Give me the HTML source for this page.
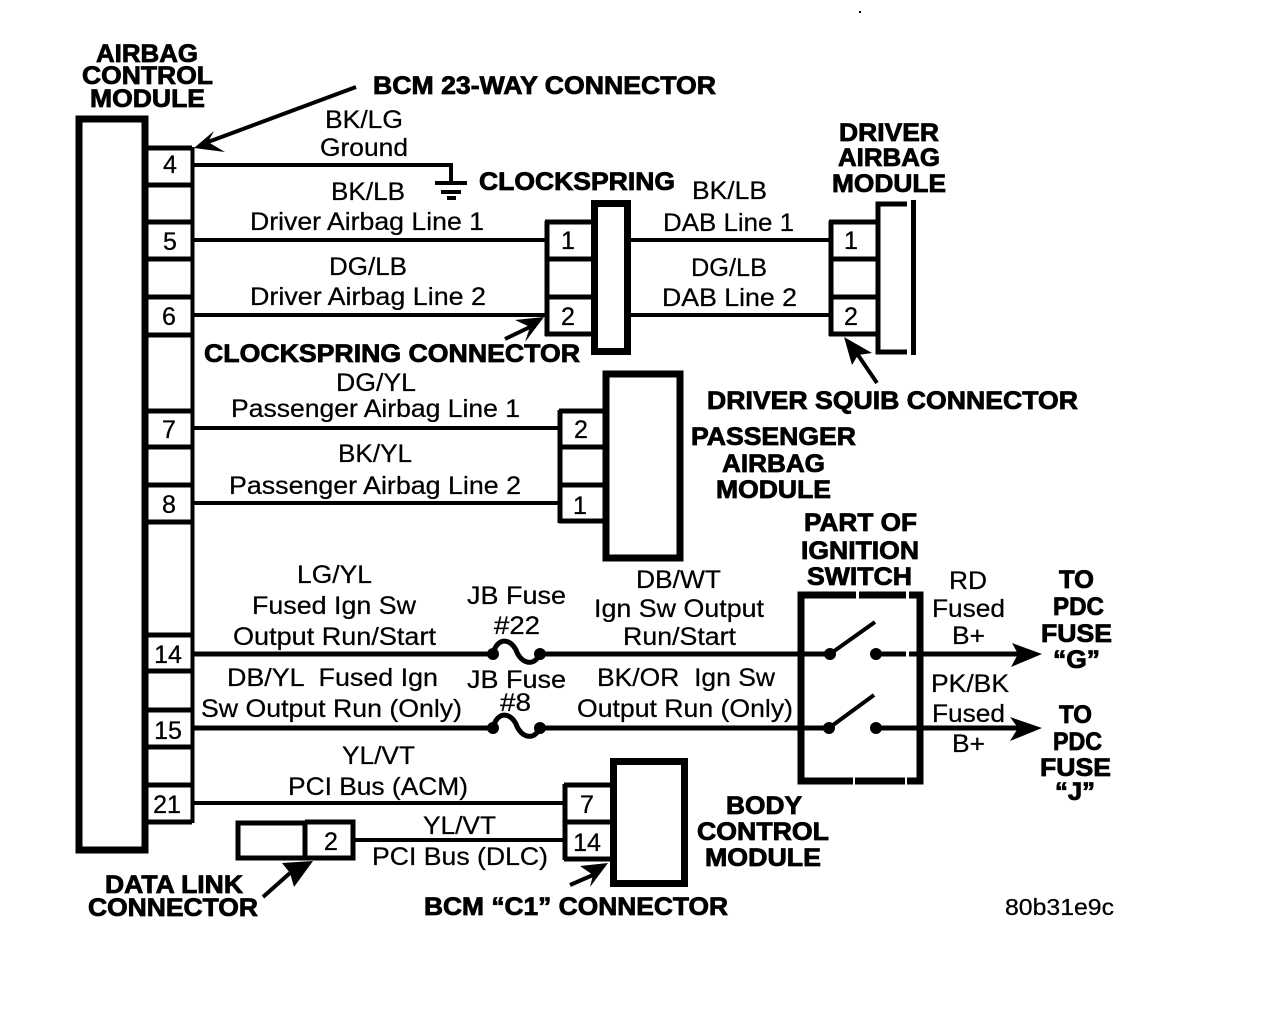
<!DOCTYPE html>
<html lang="en">
<head>
<meta charset="utf-8">
<title>Airbag Control Module Wiring Diagram</title>
<style>
html,body{margin:0;padding:0;background:#fff;width:1280px;height:1026px;overflow:hidden}
svg{display:block}
text{font-family:"Liberation Sans",sans-serif;fill:#000}
.r{font-size:25px;stroke:#000;stroke-width:.25px}
.b{font-size:25px;font-weight:bold;stroke:#000;stroke-width:.8px}
.n{font-size:25px;text-anchor:middle;stroke:#000;stroke-width:.3px}
.l{fill:none;stroke:#000;stroke-width:4}
.t{fill:none;stroke:#000;stroke-width:5}
.k{fill:none;stroke:#000;stroke-width:7}
</style>
</head>
<body>
<svg xmlns="http://www.w3.org/2000/svg" width="1280" height="1026" viewBox="0 0 1280 1026">
<rect width="1280" height="1026" fill="#fff"/>
<rect x="859" y="11" width="2" height="2"/>

<!-- Airbag control module -->
<rect x="79" y="119" width="66" height="731" class="k"/>
<path class="l" d="M192.500 147V823"/>
<path class="t" d="M146 148H192M146 185H192M146 222H192M146 259H192M146 297H192M146 335H192M146 411H192M146 447H192M146 485H192M146 522H192M146 635H192M146 671H192M146 710H192M146 747H192M146 785H192M146 822H192"/>

<!-- Wires -->
<path class="l" d="M192 165H451V184"/>
<path class="l" d="M435 183H467M441 192H461"/>
<path d="M447 196H456V200H447Z"/>
<path class="l" d="M192 240H546M192 315H546M630 240H829M630 315H829M192 428H559M192 503H559"/>
<path class="l" d="M192 803H565M355 840H565"/>
<path class="t" d="M192 654H493M540 654H830M876 654H1020M192 728H493M540 728H830M876 728H1020"/>

<!-- Fuses -->
<path fill="none" stroke="#000" stroke-width="5" d="M493 654C497 637 510 638 516 650C521 664 534 667 540 654"/>
<path fill="none" stroke="#000" stroke-width="5" d="M493 728C497 711 510 712 516 724C521 738 534 741 540 728"/>
<circle cx="493" cy="654" r="6"/><circle cx="540" cy="654" r="6"/>
<circle cx="493" cy="728" r="6"/><circle cx="540" cy="728" r="6"/>

<!-- Clockspring -->
<rect x="594.500" y="203.500" width="33" height="148" class="k"/>
<path class="t" d="M547 221V336M545 222H592M545 259H592M545 297H592M545 334H592"/>

<!-- Driver airbag module -->
<path class="t" d="M831 221V336M829 222H876M829 259H876M829 297H876M829 334H876"/>
<path class="t" d="M907 204H878V352H907"/>
<path d="M911 200H916V355H911Z"/>

<!-- Passenger airbag module -->
<rect x="606" y="374" width="74" height="184" class="k"/>
<path class="t" d="M560 410V523M559 411H606M559 447H606M559 485H606M559 521H606"/>

<!-- Ignition switch -->
<rect x="801" y="595" width="119" height="186" class="k"/>
<path d="M856 589h3v10h-3zM906 589h3v10h-3zM853 777h2v8h-2zM905 777h2v8h-2z" fill="#fff"/>
<path d="M906 650h3v8h-3z" fill="#fff"/>
<circle cx="830" cy="654" r="6"/><circle cx="876" cy="654" r="6"/>
<circle cx="829" cy="728" r="6"/><circle cx="876" cy="728" r="6"/>
<path class="l" d="M830 654L875 622M829 728L874 695"/>
<polygon points="1012,643 1042,654 1011,667 1018,654"/>
<polygon points="1010,717 1042,728 1010,741 1018,728"/>

<!-- Body control module -->
<rect x="613.500" y="761.500" width="71" height="122" class="k"/>
<path class="t" d="M565 784V860M564 785H611M564 822H611M564 859H611"/>

<!-- Data link connector -->
<rect x="238" y="823" width="67" height="35" class="t" stroke-width="6"/>
<path class="t" d="M305 822H353V858H305"/>

<!-- Pointer arrows -->
<path class="l" d="M356 87L208 142"/>
<polygon points="194,148 214,131 208,142 225,152"/>
<path class="l" d="M505 339L530 327"/>
<polygon points="544,317 515,320 530,327 525,342"/>
<path class="l" d="M877 383L858 355"/>
<polygon points="844,337 872,353 858,355 852,365"/>
<path class="l" d="M263 897L290 873"/>
<polygon points="313,861 282,863 290,873 294,887"/>
<path class="l" d="M570 885L593 875"/>
<polygon points="608,863 580,866 593,875 590,887"/>

<!-- Pin numbers -->
<text class="n" x="170" y="173">4</text>
<text class="n" x="170" y="250">5</text>
<text class="n" x="169" y="325">6</text>
<text class="n" x="169" y="438">7</text>
<text class="n" x="169" y="513">8</text>
<text class="n" x="168" y="663">14</text>
<text class="n" x="168" y="739">15</text>
<text class="n" x="167" y="813">21</text>
<text class="n" x="568" y="249">1</text>
<text class="n" x="568" y="325">2</text>
<text class="n" x="851" y="249">1</text>
<text class="n" x="851" y="325">2</text>
<text class="n" x="581" y="438">2</text>
<text class="n" x="580" y="514">1</text>
<text class="n" x="587" y="813">7</text>
<text class="n" x="587" y="851">14</text>
<text class="n" x="331" y="850">2</text>

<!-- Bold labels -->
<text class="b" x="96" y="62" textLength="102" lengthAdjust="spacingAndGlyphs">AIRBAG</text>
<text class="b" x="82" y="84" textLength="131" lengthAdjust="spacingAndGlyphs">CONTROL</text>
<text class="b" x="90" y="107" textLength="115" lengthAdjust="spacingAndGlyphs">MODULE</text>
<text class="b" x="373" y="94" textLength="343" lengthAdjust="spacingAndGlyphs">BCM 23-WAY CONNECTOR</text>
<text class="b" x="204" y="362" textLength="376" lengthAdjust="spacingAndGlyphs">CLOCKSPRING CONNECTOR</text>
<text class="b" x="479" y="190" textLength="196" lengthAdjust="spacingAndGlyphs">CLOCKSPRING</text>
<text class="b" x="839" y="141" textLength="100" lengthAdjust="spacingAndGlyphs">DRIVER</text>
<text class="b" x="838" y="166" textLength="102" lengthAdjust="spacingAndGlyphs">AIRBAG</text>
<text class="b" x="832" y="192" textLength="114" lengthAdjust="spacingAndGlyphs">MODULE</text>
<text class="b" x="707" y="409" textLength="371" lengthAdjust="spacingAndGlyphs">DRIVER SQUIB CONNECTOR</text>
<text class="b" x="691" y="445" textLength="165" lengthAdjust="spacingAndGlyphs">PASSENGER</text>
<text class="b" x="722" y="472" textLength="103" lengthAdjust="spacingAndGlyphs">AIRBAG</text>
<text class="b" x="716" y="498" textLength="115" lengthAdjust="spacingAndGlyphs">MODULE</text>
<text class="b" x="804" y="531" textLength="113" lengthAdjust="spacingAndGlyphs">PART OF</text>
<text class="b" x="801" y="559" textLength="118" lengthAdjust="spacingAndGlyphs">IGNITION</text>
<text class="b" x="807" y="585" textLength="105" lengthAdjust="spacingAndGlyphs">SWITCH</text>
<text class="b" x="1059" y="588" textLength="35" lengthAdjust="spacingAndGlyphs">TO</text>
<text class="b" x="1053" y="615" textLength="51" lengthAdjust="spacingAndGlyphs">PDC</text>
<text class="b" x="1041" y="642" textLength="71" lengthAdjust="spacingAndGlyphs">FUSE</text>
<text class="b" x="1053" y="668" textLength="47" lengthAdjust="spacingAndGlyphs">“G”</text>
<text class="b" x="1059" y="723" textLength="33" lengthAdjust="spacingAndGlyphs">TO</text>
<text class="b" x="1053" y="750" textLength="49" lengthAdjust="spacingAndGlyphs">PDC</text>
<text class="b" x="1040" y="776" textLength="71" lengthAdjust="spacingAndGlyphs">FUSE</text>
<text class="b" x="1055" y="800" textLength="40" lengthAdjust="spacingAndGlyphs">“J”</text>
<text class="b" x="726" y="814" textLength="76" lengthAdjust="spacingAndGlyphs">BODY</text>
<text class="b" x="697" y="840" textLength="132" lengthAdjust="spacingAndGlyphs">CONTROL</text>
<text class="b" x="705" y="866" textLength="116" lengthAdjust="spacingAndGlyphs">MODULE</text>
<text class="b" x="105" y="893" textLength="138" lengthAdjust="spacingAndGlyphs">DATA LINK</text>
<text class="b" x="88" y="916" textLength="170" lengthAdjust="spacingAndGlyphs">CONNECTOR</text>
<text class="b" x="424" y="915" textLength="304" lengthAdjust="spacingAndGlyphs">BCM “C1” CONNECTOR</text>

<!-- Regular labels -->
<text class="r" x="325" y="128" textLength="78" lengthAdjust="spacingAndGlyphs">BK/LG</text>
<text class="r" x="320" y="156" textLength="88" lengthAdjust="spacingAndGlyphs">Ground</text>
<text class="r" x="331" y="200" textLength="74" lengthAdjust="spacingAndGlyphs">BK/LB</text>
<text class="r" x="250" y="230" textLength="234" lengthAdjust="spacingAndGlyphs">Driver Airbag Line 1</text>
<text class="r" x="329" y="275" textLength="78" lengthAdjust="spacingAndGlyphs">DG/LB</text>
<text class="r" x="250" y="305" textLength="236" lengthAdjust="spacingAndGlyphs">Driver Airbag Line 2</text>
<text class="r" x="692" y="199" textLength="75" lengthAdjust="spacingAndGlyphs">BK/LB</text>
<text class="r" x="663" y="231" textLength="131" lengthAdjust="spacingAndGlyphs">DAB Line 1</text>
<text class="r" x="691" y="276" textLength="76" lengthAdjust="spacingAndGlyphs">DG/LB</text>
<text class="r" x="662" y="306" textLength="135" lengthAdjust="spacingAndGlyphs">DAB Line 2</text>
<text class="r" x="336" y="391" textLength="80" lengthAdjust="spacingAndGlyphs">DG/YL</text>
<text class="r" x="231" y="417" textLength="289" lengthAdjust="spacingAndGlyphs">Passenger Airbag Line 1</text>
<text class="r" x="338" y="462" textLength="74" lengthAdjust="spacingAndGlyphs">BK/YL</text>
<text class="r" x="229" y="494" textLength="292" lengthAdjust="spacingAndGlyphs">Passenger Airbag Line 2</text>
<text class="r" x="297" y="583" textLength="75" lengthAdjust="spacingAndGlyphs">LG/YL</text>
<text class="r" x="252" y="614" textLength="164" lengthAdjust="spacingAndGlyphs">Fused Ign Sw</text>
<text class="r" x="233" y="645" textLength="203" lengthAdjust="spacingAndGlyphs">Output Run/Start</text>
<text class="r" x="467" y="604" textLength="99" lengthAdjust="spacingAndGlyphs">JB Fuse</text>
<text class="r" x="494" y="634" textLength="46" lengthAdjust="spacingAndGlyphs">#22</text>
<text class="r" x="636" y="588" textLength="85" lengthAdjust="spacingAndGlyphs">DB/WT</text>
<text class="r" x="594" y="617" textLength="170" lengthAdjust="spacingAndGlyphs">Ign Sw Output</text>
<text class="r" x="623" y="645" textLength="113" lengthAdjust="spacingAndGlyphs">Run/Start</text>
<text class="r" x="949" y="589" textLength="38" lengthAdjust="spacingAndGlyphs">RD</text>
<text class="r" x="932" y="617" textLength="73" lengthAdjust="spacingAndGlyphs">Fused</text>
<text class="r" x="952" y="644" textLength="33" lengthAdjust="spacingAndGlyphs">B+</text>
<text class="r" x="227" y="686" textLength="211" lengthAdjust="spacingAndGlyphs" xml:space="preserve">DB/YL  Fused Ign</text>
<text class="r" x="201" y="717" textLength="261" lengthAdjust="spacingAndGlyphs">Sw Output Run (Only)</text>
<text class="r" x="467" y="688" textLength="99" lengthAdjust="spacingAndGlyphs">JB Fuse</text>
<text class="r" x="500" y="711" textLength="31" lengthAdjust="spacingAndGlyphs">#8</text>
<text class="r" x="597" y="686" textLength="178" lengthAdjust="spacingAndGlyphs" xml:space="preserve">BK/OR  Ign Sw</text>
<text class="r" x="577" y="717" textLength="216" lengthAdjust="spacingAndGlyphs">Output Run (Only)</text>
<text class="r" x="931" y="692" textLength="78" lengthAdjust="spacingAndGlyphs">PK/BK</text>
<text class="r" x="932" y="722" textLength="73" lengthAdjust="spacingAndGlyphs">Fused</text>
<text class="r" x="952" y="752" textLength="33" lengthAdjust="spacingAndGlyphs">B+</text>
<text class="r" x="342" y="764" textLength="73" lengthAdjust="spacingAndGlyphs">YL/VT</text>
<text class="r" x="288" y="795" textLength="180" lengthAdjust="spacingAndGlyphs">PCI Bus (ACM)</text>
<text class="r" x="423" y="834" textLength="73" lengthAdjust="spacingAndGlyphs">YL/VT</text>
<text class="r" x="372" y="865" textLength="176" lengthAdjust="spacingAndGlyphs">PCI Bus (DLC)</text>
<text class="r" x="1005" y="915" textLength="109" lengthAdjust="spacingAndGlyphs" style="font-size:23px">80b31e9c</text>
</svg>
</body>
</html>
